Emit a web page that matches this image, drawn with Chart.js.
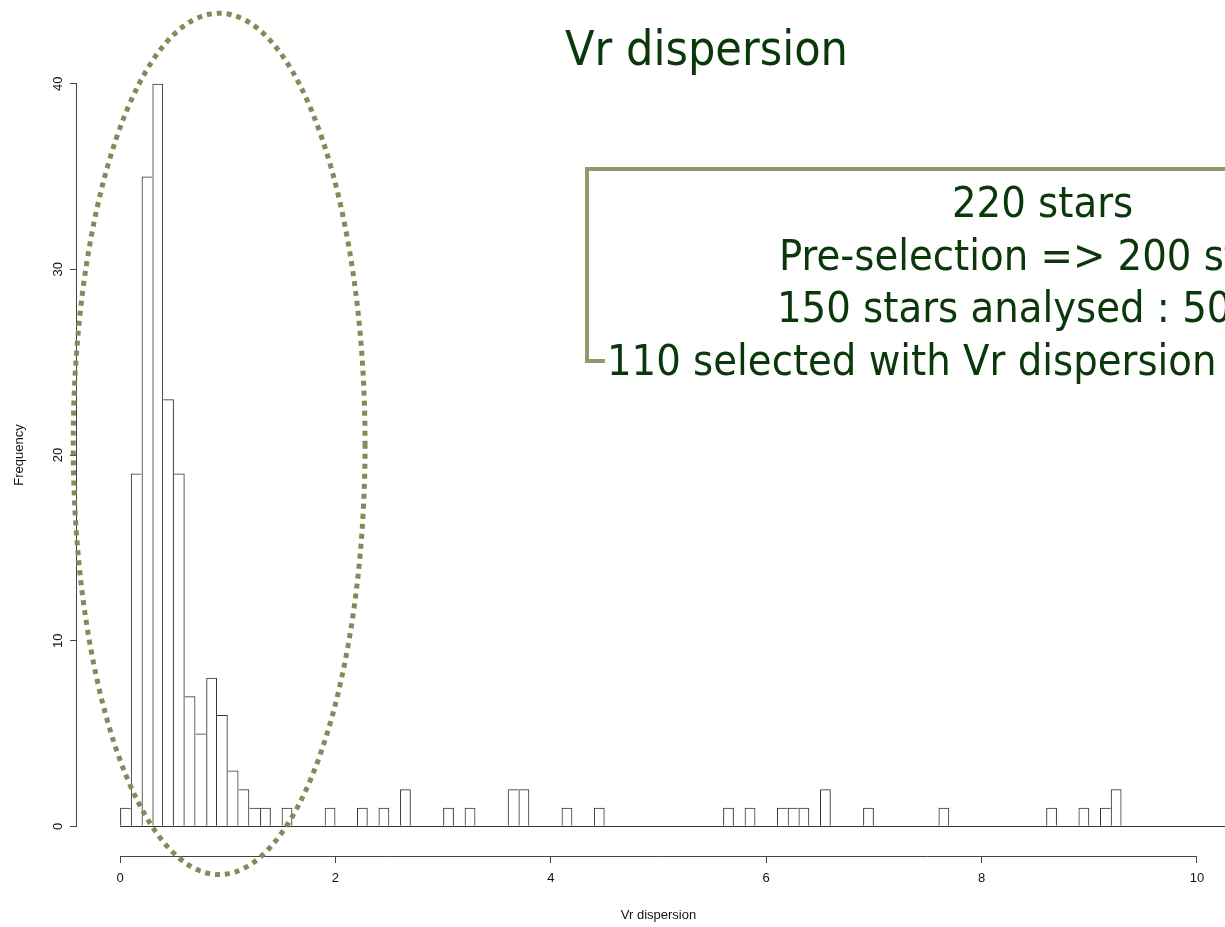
<!DOCTYPE html>
<html>
<head>
<meta charset="utf-8">
<title>Vr dispersion</title>
<script src="https://cdn.jsdelivr.net/npm/chart.js@4.4.0/dist/chart.umd.min.js"></script>
<style>
  html, body { margin: 0; padding: 0; background: #fff; overflow: hidden; }
  body { width: 1225px; height: 927px; position: relative; }
  #chart { position: absolute; left: 0; top: 0; }
  .note {
    position: absolute;
    white-space: nowrap;
    color: #0b380b;
    font-family: 'DejaVu Sans Condensed', 'DejaVu Sans', sans-serif;
    font-stretch: condensed;
  }
  #title { left: 565px; top: 24px; font-size: 48px; line-height: 48px; }
  #box {
    position: absolute; left: 585px; top: 167px;
    width: 1000px; height: 188px;
    border: 4px solid #8b9b6b;
  }
  .line { font-size: 43px; line-height: 43px; }
  #l1 { left: 952px; top: 181px; }
  #l2 { left: 779px; top: 234px; }
  #l3 { left: 777px; top: 286px; }
  #l4 { left: 605px; top: 339px; background: #fff; padding-left: 2px; padding-right: 300px; }
</style>
</head>
<body>
<canvas id="chart" width="1240" height="927"></canvas>
<div id="title" class="note">Vr dispersion</div>
<div id="box"></div>
<div id="l1" class="note line">220 stars</div>
<div id="l2" class="note line">Pre-selection =&gt; 200 stars</div>
<div id="l3" class="note line">150 stars analysed : 50</div>
<div id="l4" class="note line">110 selected with Vr dispersion</div>
<script>
// histogram: bins of 0.1 starting at 0
const binWidth = 0.1;
const binCounts = [
  1, 19, 35, 40, 23, 19, 7, 5, 8, 6,     // 0.0 - 1.0
  3, 2, 1, 1, 0, 1, 0, 0, 0, 1,          // 1.0 - 2.0
  0, 0, 1, 0, 1, 0, 2, 0, 0, 0,          // 2.0 - 3.0
  1, 0, 1, 0, 0, 0, 2, 2, 0, 0,          // 3.0 - 4.0
  0, 1, 0, 0, 1, 0, 0, 0, 0, 0,          // 4.0 - 5.0
  0, 0, 0, 0, 0, 0, 1, 0, 1, 0,          // 5.0 - 6.0
  0, 1, 1, 1, 0, 2, 0, 0, 0, 1,          // 6.0 - 7.0
  0, 0, 0, 0, 0, 0, 1, 0, 0, 0,          // 7.0 - 8.0
  0, 0, 0, 0, 0, 0, 1, 0, 0, 1,          // 8.0 - 9.0
  0, 1, 2, 0, 0, 0, 0, 0, 0, 0,          // 9.0 - 10.0
  0, 0, 0, 0                             // 10.0 - 10.4
];
const xTicks = [0, 2, 4, 6, 8, 10];
const yTicks = [0, 10, 20, 30, 40];

const axisFont = { family: "'Liberation Sans', Arial, sans-serif", size: 13 };
const axisColor = '#444';

// R style axes: line only between first and last tick, plus the dotted ellipse
const rStyle = {
  id: 'rStyle',
  afterDatasetsDraw(chart) {
    const { ctx, scales: { x, y } } = chart;
    const y0 = Math.round(y.getPixelForValue(0)) + 0.5;
    ctx.save();
    ctx.strokeStyle = '#333';
    ctx.lineWidth = 1;
    ctx.beginPath();
    ctx.moveTo(x.getPixelForValue(0), y0);
    ctx.lineTo(x.getPixelForValue(binCounts.length * binWidth), y0);
    ctx.stroke();
    ctx.restore();
  },
  afterDraw(chart) {
    const { ctx, scales: { x, y } } = chart;
    ctx.save();
    ctx.strokeStyle = axisColor;
    ctx.lineWidth = 1;
    ctx.beginPath();
    const ay = Math.round(x.top) + 0.5;
    ctx.moveTo(x.getPixelForValue(xTicks[0]), ay);
    ctx.lineTo(x.getPixelForValue(xTicks[xTicks.length - 1]), ay);
    const ax = Math.round(y.right) - 0.5;
    ctx.moveTo(ax, y.getPixelForValue(yTicks[0]));
    ctx.lineTo(ax, y.getPixelForValue(yTicks[yTicks.length - 1]));
    ctx.stroke();

    // highlight ellipse around the main peak (in data units)
    const cx = x.getPixelForValue(0.92), cy = y.getPixelForValue(20.6);
    const rx = x.getPixelForValue(0.92 + 1.355) - cx;
    const ry = cy - y.getPixelForValue(20.6 + 23.2);
    ctx.strokeStyle = '#7f8d58';
    ctx.lineWidth = 5;
    ctx.setLineDash([5, 5]);
    ctx.beginPath();
    ctx.ellipse(cx, cy, rx, ry, 0, 0, Math.PI * 2);
    ctx.stroke();
    ctx.restore();
  }
};

new Chart(document.getElementById('chart'), {
  type: 'bar',
  data: {
    datasets: [{
      data: binCounts.map((c, i) => ({ x: (i + 0.5) * binWidth, y: c })),
      backgroundColor: 'transparent',
      borderColor: '#333',
      borderSkipped: false,
      inflateAmount: 0,
      barPercentage: 1,
      categoryPercentage: 1,
      borderWidth: (ctx) => {
        const i = ctx.dataIndex;
        const c = binCounts[i];
        if (!c) return 0;
        const prev = binCounts[i - 1] || 0;
        const next = binCounts[i + 1] || 0;
        return { left: prev > c ? 0 : 1, top: 1, right: next < c ? 1 : 0, bottom: 0 };
      }
    }]
  },
  options: {
    responsive: false,
    devicePixelRatio: 1,
    animation: false,
    layout: { padding: { top: 54, right: 0, left: 0, bottom: 0 } },
    plugins: { legend: { display: false }, tooltip: { enabled: false } },
    scales: {
      x: {
        type: 'linear',
        min: -0.4,
        max: 10.4,
        offset: false,
        afterBuildTicks: (s) => { s.ticks = xTicks.map(v => ({ value: v })); },
        afterFit: (s) => { s.height = 71; },
        grid: { drawOnChartArea: false, offset: false, tickLength: 7, color: axisColor, lineWidth: 1 },
        border: { display: false },
        ticks: { color: '#111', font: axisFont, padding: 8, maxRotation: 0, autoSkip: false },
        title: { display: true, text: 'Vr dispersion', color: '#111', font: axisFont, padding: { top: 0, bottom: 4 } }
      },
      y: {
        min: -1.6,
        max: 41.6,
        afterBuildTicks: (s) => { s.ticks = yTicks.map(v => ({ value: v })); },
        afterFit: (s) => { s.width = 77; },
        grid: { drawOnChartArea: false, tickLength: 7, color: axisColor, lineWidth: 1 },
        border: { display: false },
        ticks: { color: '#111', font: axisFont, padding: 4, minRotation: 90, maxRotation: 90, crossAlign: 'center' },
        title: { display: true, text: 'Frequency', color: '#111', font: axisFont, padding: { top: 12, bottom: 0 } }
      }
    }
  },
  plugins: [rStyle]
});
</script>
</body>
</html>
